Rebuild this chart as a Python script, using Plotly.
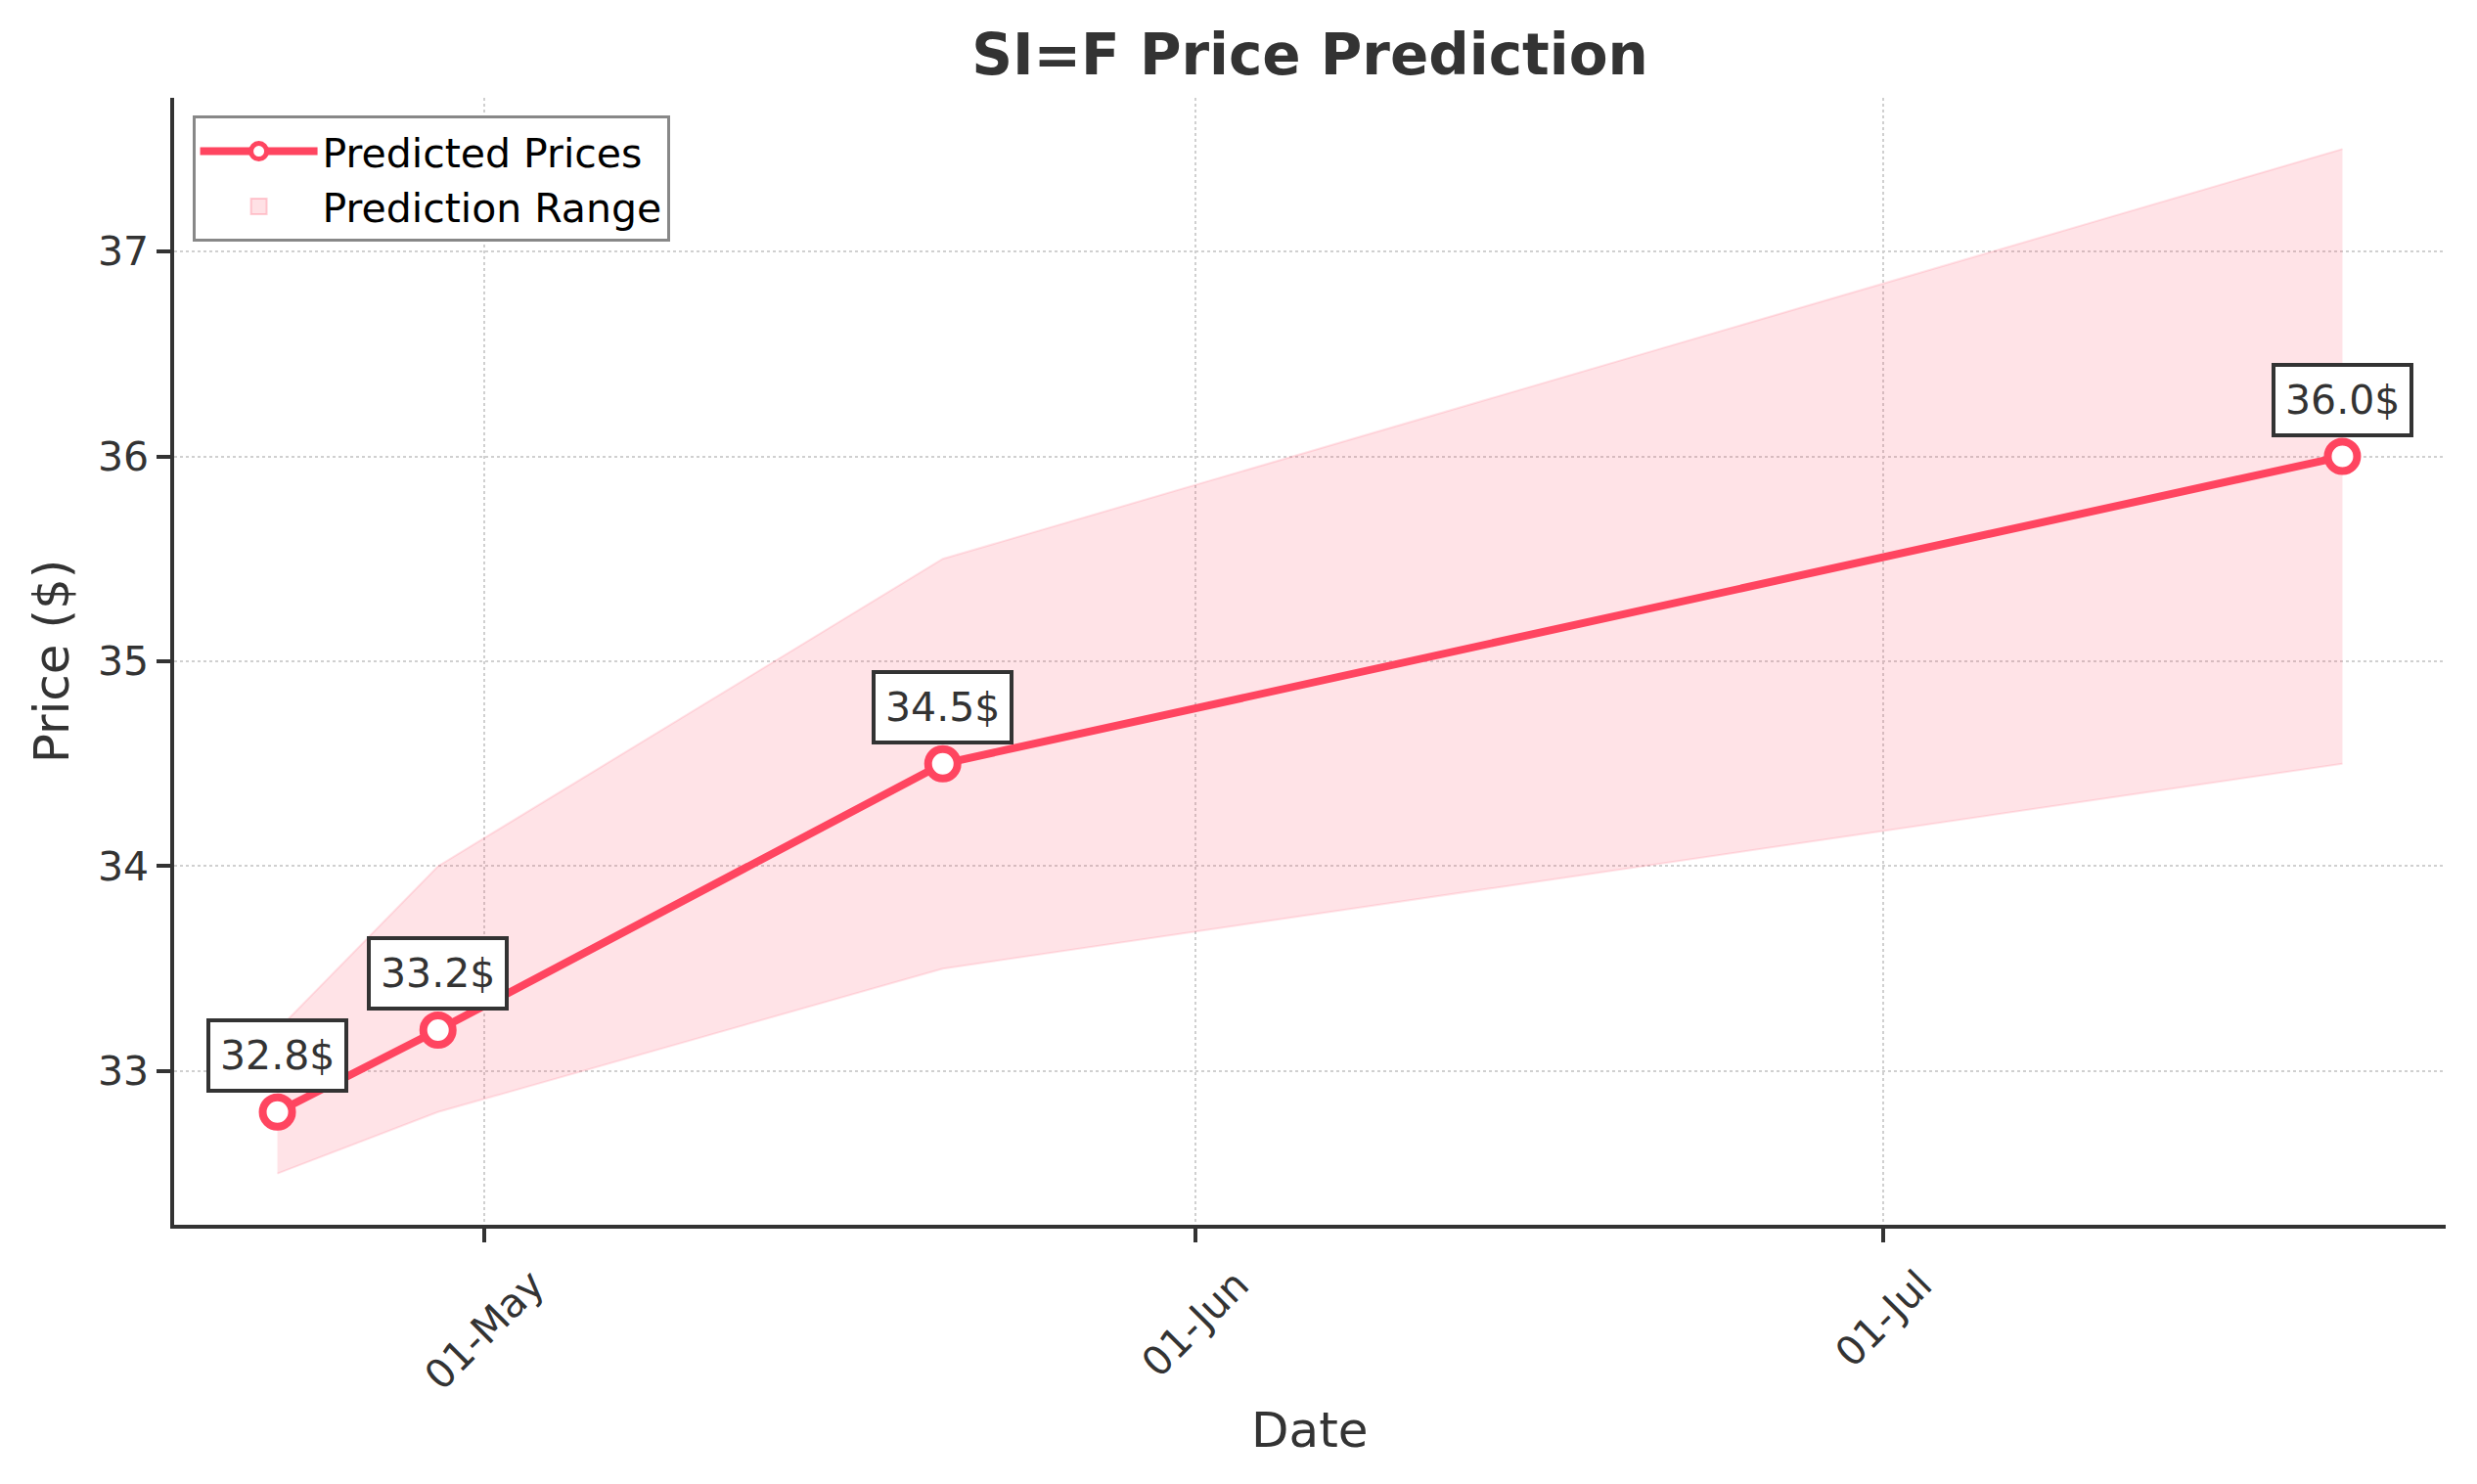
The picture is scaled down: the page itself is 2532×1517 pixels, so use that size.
import pandas as pd
import plotly.graph_objects as go

# --------------------
# Data
# --------------------
dates = ["2025-04-22", "2025-04-29", "2025-05-21", "2025-07-21"]
predicted = [32.8, 33.2, 34.5, 36.0]
upper = [33.2, 34.0, 35.5, 37.5]
lower = [32.5, 32.8, 33.5, 34.5]

x_ticks = ["2025-05-01", "2025-06-01", "2025-07-01"]
x_tick_text = ["01-May", "01-Jun", "01-Jul"]
y_ticks = [33, 34, 35, 36, 37]

dates = pd.to_datetime(dates)

# matplotlib-style 5% margins
pad_x = (dates.max() - dates.min()) * 0.05
pad_y = (max(upper) - min(lower)) * 0.05

LINE = "#ff4560"
TEXT = "#333333"
FONT = "DejaVu Sans"
BAND_FILL = "rgba(255,69,96,0.15)"
BAND_EDGE = "rgba(255,69,96,0.14)"

# page body has an 8px margin, so the figure is 8px smaller each way
W, H = 2524, 1509

# --------------------
# Plot
# --------------------
fig = go.Figure()

# Prediction range band (lower edge, then upper filled down to it)
fig.add_trace(go.Scatter(
    x=dates, y=lower, mode="lines",
    line=dict(color=BAND_EDGE, width=2),
    showlegend=False, hoverinfo="skip",
))
fig.add_trace(go.Scatter(
    x=dates, y=upper, mode="lines",
    fill="tonexty", fillcolor=BAND_FILL,
    line=dict(color=BAND_EDGE, width=2),
    showlegend=False, hoverinfo="skip",
))

# Predicted prices
fig.add_trace(go.Scatter(
    x=dates,
    y=predicted,
    mode="lines+markers",
    line=dict(color=LINE, width=8),
    marker=dict(size=30, color="white", line=dict(color=LINE, width=8)),
    name="Predicted Prices",
    legendrank=1,
))

# legend patch for the band
fig.add_trace(go.Scatter(
    x=[None], y=[None], mode="markers",
    marker=dict(symbol="square", size=30, color="rgba(255,69,96,0.16)",
                line=dict(color="rgba(255,69,96,0.25)", width=2)),
    name="Prediction Range",
    legendrank=2,
))

# value labels
for d, v in zip(dates, predicted):
    fig.add_annotation(
        x=d, y=v, text=f"{v:.1f}$", showarrow=False,
        yshift=58, bgcolor="white", bordercolor=TEXT, borderwidth=4,
        borderpad=10, font=dict(size=41, color=TEXT, family=FONT),
    )

# rotated date labels, centred on their ticks like matplotlib
for t, lbl in zip(pd.to_datetime(x_ticks), x_tick_text):
    fig.add_annotation(
        x=t, y=0, xref="x", yref="paper", text=lbl, showarrow=False,
        textangle=-45, xanchor="center", yanchor="top", yshift=-34,
        font=dict(size=41, color=TEXT, family=FONT),
    )

# x axis title
fig.add_annotation(
    x=0.5, y=0, xref="paper", yref="paper", text="Date", showarrow=False,
    xanchor="center", yanchor="middle", yshift=-210,
    font=dict(size=50, color=TEXT, family=FONT),
)

fig.update_layout(
    width=W,
    height=H,
    margin=dict(l=170, r=32, t=92, b=265),
    paper_bgcolor="white",
    plot_bgcolor="white",
    font=dict(family=FONT, color=TEXT),
    title=dict(
        text="<b>SI=F Price Prediction</b>",
        x=0.5, xref="paper", xanchor="center",
        y=1 - 48 / H, yref="container", yanchor="middle",
        font=dict(size=58, color=TEXT, family=FONT),
    ),
    legend=dict(
        x=0.008, y=0.984, xanchor="left", yanchor="top",
        traceorder="normal",
        bgcolor="white", bordercolor="#888888", borderwidth=3,
        font=dict(size=41, color="black", family=FONT),
        itemwidth=120,
    ),
    showlegend=True,
)

fig.update_xaxes(
    range=[dates.min() - pad_x, dates.max() + pad_x],
    tickvals=pd.to_datetime(x_ticks),
    showticklabels=False,
    showline=True, linecolor=TEXT, linewidth=3.5, mirror=False,
    ticks="outside", ticklen=14, tickwidth=3.5, tickcolor=TEXT,
    showgrid=True, gridcolor="#d0d0d0", gridwidth=2, griddash="dot",
    zeroline=False,
)

fig.update_yaxes(
    range=[min(lower) - pad_y, max(upper) + pad_y],
    tickvals=y_ticks,
    tickfont=dict(size=41, color=TEXT, family=FONT),
    title=dict(text="Price ($)", font=dict(size=50, color=TEXT, family=FONT), standoff=14),
    showline=True, linecolor=TEXT, linewidth=3.5, mirror=False,
    ticks="outside", ticklen=14, tickwidth=3.5, tickcolor=TEXT,
    showgrid=True, gridcolor="#d0d0d0", gridwidth=2, griddash="dot",
    zeroline=False,
)

fig.write_html("out.html")
